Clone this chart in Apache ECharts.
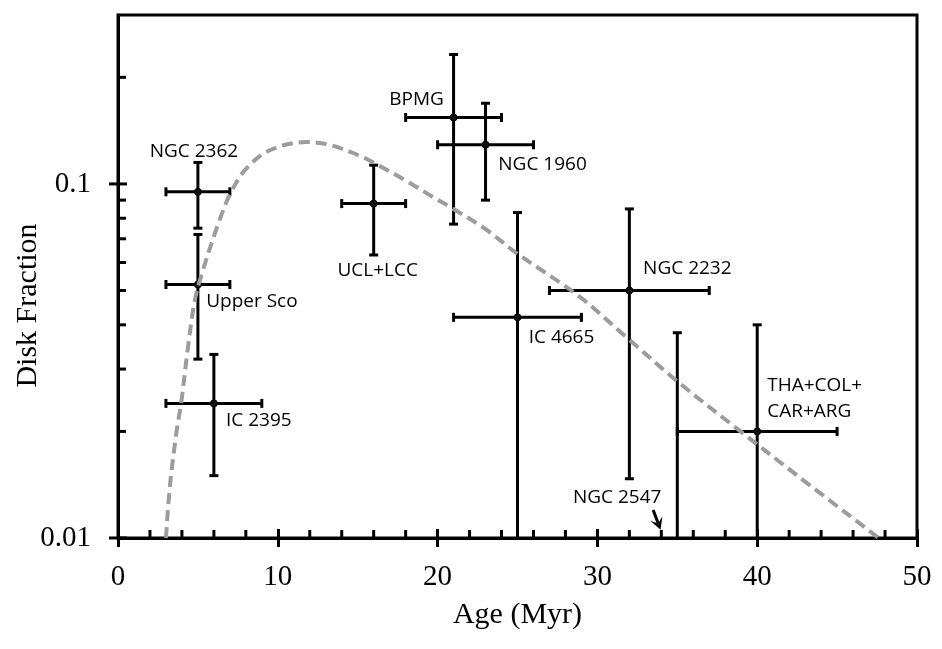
<!DOCTYPE html>
<html>
<head>
<meta charset="utf-8">
<script src="https://cdn.jsdelivr.net/npm/echarts@6/dist/echarts.min.js"></script>
<style>
html,body{margin:0;padding:0;background:#fff;}
#chart{width:942px;height:649px;}
</style>
</head>
<body>
<div id="chart"></div>
<script>
// ---- data ----
const clusterNames = ['NGC 2362','Upper Sco','IC 2395','UCL+LCC','BPMG','NGC 1960','IC 4665','NGC 2232','THA+COL+\nCAR+ARG'];
const clusterAge      = [5, 5, 6, 16, 21, 23, 25, 32, 40];
const clusterAgeLow   = [3, 3, 3, 14, 18, 20, 21, 27, 35];
const clusterAgeHigh  = [7, 7, 9, 18, 24, 26, 29, 37, 45];
const clusterFrac     = [0.095, 0.052, 0.024, 0.088, 0.154, 0.129, 0.042, 0.050, 0.020];
const clusterFracLow  = [0.075, 0.032, 0.015, 0.063, 0.077, 0.090, 0.010, 0.0147, 0.010];
const clusterFracHigh = [0.115, 0.072, 0.033, 0.113, 0.232, 0.169, 0.083, 0.085, 0.040];

const limitName = 'NGC 2547';
const limitAge = [35];
const limitFracHigh = [0.038];
const arrowTail = [33.49, 0.0120];
const arrowTip  = [33.95, 0.01055];

const curveAge  = [3.0, 3.26, 3.68, 3.95, 4.36, 4.78, 5.2, 6.34, 7.07, 8.01, 9.47, 11.76, 13.22, 15.09, 16.14, 18.01, 19.68, 20.93, 23.01, 24.89, 28.84, 31.76, 35.0, 38.84, 42.6, 47.6];
const curveFrac = [0.0100, 0.0142, 0.0202, 0.0240, 0.0340, 0.0462, 0.0549, 0.0787, 0.0947, 0.1103, 0.1243, 0.1313, 0.1290, 0.1203, 0.1139, 0.1022, 0.0920, 0.0853, 0.0745, 0.0640, 0.0482, 0.0371, 0.0277, 0.0202, 0.0149, 0.0100];

const xMin = 0, xMax = 50, xStep = 10;
const xMinorTicks = [2, 4, 6, 8, 12, 14, 16, 18, 22, 24, 26, 28, 32, 34, 36, 38, 42, 44, 46, 48];
const yMin = 0.01, yMax = 0.3;
const yMajorTicks = [0.01, 0.1];
const yMinorTicks = [0.02, 0.03, 0.04, 0.05, 0.06, 0.07, 0.08, 0.09, 0.2];

// ---- presentation ----
const labelOffset = [[-4,-40],[54,17],[45,17],[4,67],[-37,-18],[57,20],[44,20],[58,-22],[10,-33]];
const labelAlign  = ['center','center','center','center','center','center','center','center','left'];
const limitLabelOffset = [-36, -12];
const labelFont = '19px "Open Sans"';
const serif = 'Liberation Serif';

const barData = clusterAge.map((a, i) => [a, clusterFrac[i], clusterAgeLow[i], clusterAgeHigh[i], clusterFracLow[i], clusterFracHigh[i]]);
const curveData = curveAge.map((a, i) => [a, curveFrac[i]]);
// kind: 1 = y major (crossing), 0 = y minor (inside), 2 = x minor (inside)
const tickData = yMajorTicks.map(v => [xMin, v, 1])
  .concat(yMinorTicks.map(v => [xMin, v, 0]))
  .concat(xMinorTicks.map(v => [v, yMin, 2]));
const limitData = limitAge.map((a, i) => [a, limitFracHigh[i], arrowTail[0], arrowTail[1], arrowTip[0], arrowTip[1]]);

function seg(p, q, w) {
  return {type: 'line', shape: {x1: p[0], y1: p[1], x2: q[0], y2: q[1]}, style: {stroke: '#000', lineWidth: w || 3}};
}

function renderBars(params, api) {
  const i = params.dataIndex;
  const x = api.value(0), y = api.value(1);
  const xl = api.value(2), xh = api.value(3), yl = api.value(4), yh = api.value(5);
  const c = api.coord([x, y]);
  const pl = api.coord([xl, y]), ph = api.coord([xh, y]);
  const pt = api.coord([x, yh]), pb = api.coord([x, yl]);
  const cap = 4.5;
  const ch = [
    seg(pl, ph), seg(pt, pb),
    seg([pl[0], pl[1]-cap], [pl[0], pl[1]+cap]),
    seg([ph[0], ph[1]-cap], [ph[0], ph[1]+cap]),
    seg([pt[0]-cap, pt[1]], [pt[0]+cap, pt[1]])
  ];
  if (yl > yMin) ch.push(seg([pb[0]-cap, pb[1]], [pb[0]+cap, pb[1]]));
  ch.push({type: 'circle', shape: {cx: c[0], cy: c[1], r: 3.5}, style: {fill: '#111', stroke: '#000', lineWidth: 1}});
  const off = labelOffset[i];
  ch.push({type: 'text', x: c[0] + off[0], y: c[1] + off[1],
    style: {text: clusterNames[i], font: labelFont, fill: '#000', align: labelAlign[i], verticalAlign: 'middle', lineHeight: 26}});
  return {type: 'group', children: ch};
}

function renderLimit(params, api) {
  const top = api.coord([api.value(0), api.value(1)]);
  const bot = api.coord([api.value(0), yMin]);
  const tail = api.coord([api.value(2), api.value(3)]);
  const tip = api.coord([api.value(4), api.value(5)]);
  const cap = 4.5;
  let dx = tip[0]-tail[0], dy = tip[1]-tail[1];
  const L = Math.hypot(dx, dy); dx /= L; dy /= L;
  const nx = -dy, ny = dx;
  const hl = 12, hw = 6.5;
  const back = [tip[0]-dx*hl, tip[1]-dy*hl];
  const notch = [tip[0]-dx*hl*0.55, tip[1]-dy*hl*0.55];
  return {type: 'group', children: [
    seg(top, bot),
    seg([top[0]-cap, top[1]], [top[0]+cap, top[1]]),
    seg(tail, notch, 3),
    {type: 'polygon', shape: {points: [tip, [back[0]+nx*hw, back[1]+ny*hw], notch, [back[0]-nx*hw, back[1]-ny*hw]]}, style: {fill: '#000'}},
    {type: 'text', x: tail[0] + limitLabelOffset[0], y: tail[1] + limitLabelOffset[1],
      style: {text: limitName, font: labelFont, fill: '#000', align: 'center', verticalAlign: 'middle'}}
  ]};
}

function renderTicks(params, api) {
  const c = api.coord([api.value(0), api.value(1)]);
  const kind = api.value(2);
  if (kind === 1) return seg([c[0]-9, c[1]], [c[0]+9, c[1]]);
  if (kind === 0) return seg([c[0], c[1]], [c[0]+8, c[1]]);
  return seg([c[0], c[1]], [c[0], c[1]-8]);
}

const chart = echarts.init(document.getElementById('chart'), null, {renderer: 'canvas'});
chart.setOption({
  animation: false,
  backgroundColor: '#fff',
  grid: {left: 118, right: 25, top: 15, bottom: 111, show: true, borderColor: '#000', borderWidth: 3, backgroundColor: 'transparent', containLabel: false, outerBoundsMode: 'none'},
  xAxis: [{
    type: 'value', min: xMin, max: xMax, interval: xStep, position: 'bottom',
    name: 'Age (Myr)', nameLocation: 'middle', nameGap: 62, nameMoveOverlap: false,
    nameTextStyle: {fontFamily: serif, fontSize: 30, color: '#000'},
    axisLine: {show: true, onZero: false, lineStyle: {color: '#000', width: 3}},
    axisTick: {show: true, inside: true, length: 9, lineStyle: {color: '#000', width: 3}},
    axisLabel: {fontFamily: serif, fontSize: 29, color: '#000', margin: 25},
    splitLine: {show: false}
  }, {
    type: 'value', min: xMin, max: xMax, interval: xStep, position: 'bottom',
    axisLine: {show: false, onZero: false},
    axisTick: {show: true, inside: false, length: 9, lineStyle: {color: '#000', width: 3}},
    axisLabel: {show: false},
    splitLine: {show: false}
  }],
  yAxis: {
    type: 'log', logBase: 10, min: yMin, max: yMax,
    name: 'Disk Fraction', nameLocation: 'middle', nameGap: 75, nameMoveOverlap: false,
    nameTextStyle: {fontFamily: serif, fontSize: 30, color: '#000', padding: [0, 58, 0, 0]},
    axisLine: {show: true, onZero: false, lineStyle: {color: '#000', width: 3}},
    axisTick: {show: false},
    axisLabel: {fontFamily: serif, fontSize: 29, color: '#000', margin: 27, showMaxLabel: false,
      formatter: function (v) { const l = Math.log10(v); return Math.abs(l - Math.round(l)) < 1e-6 ? String(+v.toPrecision(6)) : ''; }},
    splitLine: {show: false}
  },
  series: [
    {type: 'custom', name: 'clusters', renderItem: renderBars, data: barData, encode: {x: 0, y: 1}, z: 2, clip: false},
    {type: 'custom', name: limitName, renderItem: renderLimit, data: limitData, encode: {x: 0, y: 1}, z: 2, clip: false},
    {type: 'line', name: 'model', data: curveData, smooth: 0.35, showSymbol: false, symbol: 'none', z: 3,
      lineStyle: {color: '#9c9c9c', width: 4, type: [11, 6]}},
    {type: 'custom', name: 'ticks', renderItem: renderTicks, data: tickData, encode: {x: 0, y: 1}, z: 4, clip: false, silent: true}
  ]
});
</script>
</body>
</html>
